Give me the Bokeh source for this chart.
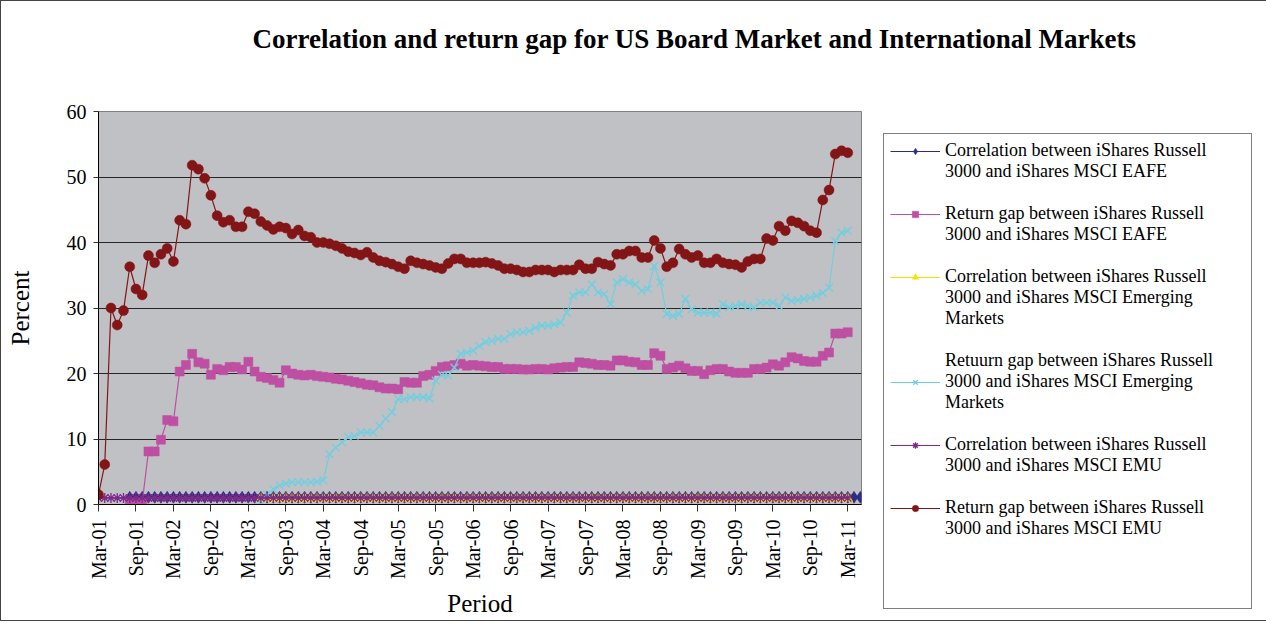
import math
import numpy as np
from bokeh.plotting import figure
from bokeh.models import Range1d, FixedTicker, Legend, LegendItem, Title
from bokeh.embed import file_html
from bokeh.resources import INLINE

# ---------------- data ----------------
tick_labels = ["Mar-01", "Sep-01", "Mar-02", "Sep-02", "Mar-03", "Sep-03", "Mar-04",
               "Sep-04", "Mar-05", "Sep-05", "Mar-06", "Sep-06", "Mar-07", "Sep-07",
               "Mar-08", "Sep-08", "Mar-09", "Sep-09", "Mar-10", "Sep-10", "Mar-11"]
tick_step = 6  # months between labelled ticks

# month index (0 = Mar-01) of the first value of each series
eafe_corr_start = 5
eafe_corr = [
    1.1, 1.1, 1.1, 1.1, 1.1, 1.1, 1.1, 1.1, 1.1, 1.1,
    1.1, 1.1, 1.1, 1.1, 1.1, 1.1, 1.1, 1.1, 1.1, 1.1,
    1.1, 1.1, 1.1, 1.1, 1.1, 1.1, 1.1, 1.1, 1.1, 1.1,
    1.1, 1.1, 1.1, 1.1, 1.1, 1.1, 1.1, 1.1, 1.1, 1.1,
    1.1, 1.1, 1.1, 1.1, 1.1, 1.1, 1.1, 1.1, 1.1, 1.1,
    1.1, 1.1, 1.1, 1.1, 1.1, 1.1, 1.1, 1.1, 1.1, 1.1,
    1.1, 1.1, 1.1, 1.1, 1.1, 1.1, 1.1, 1.1, 1.1, 1.1,
    1.1, 1.1, 1.1, 1.1, 1.1, 1.1, 1.1, 1.1, 1.1, 1.1,
    1.1, 1.1, 1.1, 1.1, 1.1, 1.1, 1.1, 1.1, 1.1, 1.1,
    1.1, 1.1, 1.1, 1.1, 1.1, 1.1, 1.1, 1.1, 1.1, 1.1,
    1.1, 1.1, 1.1, 1.1, 1.1, 1.1, 1.1, 1.1, 1.1, 1.1,
    1.1, 1.1, 1.1, 1.1, 1.1, 1.1, 1.1, 1.1]

eafe_ret_start = 5
eafe_ret = [
    0.3, 0.3, 0.3,
    8.1, 8.1, 9.9, 12.9, 12.7, 20.3, 21.3, 23.0, 21.7, 21.5,
    19.8, 20.7, 20.5, 21.0, 21.0, 20.6, 21.8, 20.3, 19.5, 19.3,
    19.0, 18.6, 20.5, 20.0, 19.8, 19.7, 19.8, 19.6, 19.5, 19.4,
    19.2, 19.1, 18.9, 18.7, 18.5, 18.3, 18.2, 17.9, 17.7, 17.7,
    17.6, 18.7, 18.6, 18.6, 19.6, 19.8, 20.4, 21.0, 21.1, 21.3,
    21.5, 21.2, 21.3, 21.2, 21.1, 21.0, 21.0, 20.7, 20.7, 20.7,
    20.6, 20.6, 20.7, 20.7, 20.6, 20.8, 20.9, 21.0, 21.0, 21.7,
    21.6, 21.5, 21.3, 21.3, 21.2, 22.0, 22.0, 21.8, 21.7, 21.3,
    21.3, 23.1, 22.7, 20.7, 20.9, 21.2, 20.8, 20.4, 20.4, 19.9,
    20.5, 20.7, 20.7, 20.3, 20.1, 20.1, 20.1, 20.7, 20.7, 20.9,
    21.4, 21.2, 21.7, 22.5, 22.3, 21.9, 21.8, 21.8, 22.7, 23.2,
    26.1, 26.1, 26.3]

em_corr_start = 26
em_corr = [
    0.9, 0.9, 0.9, 0.9, 0.9, 0.9, 0.9, 0.9, 0.9, 0.9,
    0.9, 0.9, 0.9, 0.9, 0.9, 0.9, 0.9, 0.9, 0.9, 0.9,
    0.9, 0.9, 0.9, 0.9, 0.9, 0.9, 0.9, 0.9, 0.9, 0.9,
    0.9, 0.9, 0.9, 0.9, 0.9, 0.9, 0.9, 0.9, 0.9, 0.9,
    0.9, 0.9, 0.9, 0.9, 0.9, 0.9, 0.9, 0.9, 0.9, 0.9,
    0.9, 0.9, 0.9, 0.9, 0.9, 0.9, 0.9, 0.9, 0.9, 0.9,
    0.9, 0.9, 0.9, 0.9, 0.9, 0.9, 0.9, 0.9, 0.9, 0.9,
    0.9, 0.9, 0.9, 0.9, 0.9, 0.9, 0.9, 0.9, 0.9, 0.9,
    0.9, 0.9, 0.9, 0.9, 0.9, 0.9, 0.9, 0.9, 0.9, 0.9,
    0.9, 0.9, 0.9, 0.9, 0.9]

em_ret_start = 26
em_ret = [
    0.5, 1.5, 2.3, 2.9, 3.2, 3.4, 3.4, 3.4, 3.4, 3.5,
    3.7, 7.7, 8.7, 9.5, 10.3, 10.5, 11.0, 11.0, 11.0, 12.0,
    13.1, 14.1, 16.1, 16.1, 16.4, 16.4, 16.4, 16.2, 18.9, 19.8,
    19.7, 20.9, 23.0, 23.2, 23.5, 24.2, 24.8, 25.0, 25.3, 25.3,
    26.0, 26.3, 26.3, 26.5, 27.0, 27.3, 27.3, 27.5, 27.8, 29.3,
    31.9, 32.4, 32.4, 33.6, 32.4, 32.1, 30.6, 33.9, 34.4, 33.9,
    33.6, 32.6, 32.9, 36.4, 33.9, 29.1, 28.8, 29.1, 31.4, 29.8,
    29.3, 29.3, 29.3, 29.1, 30.6, 30.1, 30.3, 30.6, 30.3, 30.1,
    30.8, 30.8, 30.8, 30.3, 31.6, 31.1, 31.2, 31.4, 31.6, 31.9,
    32.3, 33.1, 40.2, 41.5, 41.8]

emu_corr_start = 0
emu_corr = [
    1.0, 1.0, 1.0, 1.0, 1.0, 1.0, 1.0, 1.0, 1.0, 1.0,
    1.0, 1.0, 1.0, 1.0, 1.0, 1.0, 1.0, 1.0, 1.0, 1.0,
    1.0, 1.0, 1.0, 1.0, 1.0, 1.0, 1.0, 1.0, 1.0, 1.0,
    1.0, 1.0, 1.0, 1.0, 1.0, 1.0, 1.0, 1.0, 1.0, 1.0,
    1.0, 1.0, 1.0, 1.0, 1.0, 1.0, 1.0, 1.0, 1.0, 1.0,
    1.0, 1.0, 1.0, 1.0, 1.0, 1.0, 1.0, 1.0, 1.0, 1.0,
    1.0, 1.0, 1.0, 1.0, 1.0, 1.0, 1.0, 1.0, 1.0, 1.0,
    1.0, 1.0, 1.0, 1.0, 1.0, 1.0, 1.0, 1.0, 1.0, 1.0,
    1.0, 1.0, 1.0, 1.0, 1.0, 1.0, 1.0, 1.0, 1.0, 1.0,
    1.0, 1.0, 1.0, 1.0, 1.0, 1.0, 1.0, 1.0, 1.0, 1.0,
    1.0, 1.0, 1.0, 1.0, 1.0, 1.0, 1.0, 1.0, 1.0, 1.0,
    1.0, 1.0, 1.0, 1.0, 1.0, 1.0, 1.0, 1.0, 1.0, 1.0,
    1.0]

emu_ret_start = 0
emu_ret = [
    1.5, 6.1, 30.0, 27.4, 29.6, 36.3, 32.9, 32.0, 38.0, 36.9,
    38.2, 39.1, 37.1, 43.4, 42.8, 51.8, 51.2, 49.8, 47.2, 44.1,
    43.1, 43.4, 42.4, 42.4, 44.7, 44.4, 43.2, 42.6, 42.0, 42.4,
    42.2, 41.3, 41.9, 41.0, 40.8, 40.0, 40.0, 39.8, 39.5, 39.1,
    38.6, 38.4, 38.1, 38.5, 37.7, 37.2, 37.0, 36.7, 36.3, 36.0,
    37.2, 36.9, 36.7, 36.5, 36.2, 36.0, 36.8, 37.5, 37.5, 36.9,
    36.9, 36.9, 37.0, 36.8, 36.5, 36.0, 36.0, 35.8, 35.5, 35.5,
    35.8, 35.8, 35.8, 35.5, 35.8, 35.8, 35.8, 36.6, 36.0, 36.0,
    37.0, 36.7, 36.5, 38.2, 38.2, 38.7, 38.7, 37.7, 37.7, 40.3,
    39.1, 36.3, 36.9, 39.0, 38.2, 37.7, 38.0, 36.9, 36.9, 37.5,
    36.9, 36.7, 36.6, 36.2, 37.1, 37.5, 37.5, 40.6, 40.3, 42.5,
    41.8, 43.3, 43.0, 42.5, 41.8, 41.5, 46.5, 48.0, 53.5, 54.0,
    53.7]

legend_lines = [
    ["Correlation between iShares Russell", "3000 and iShares MSCI EAFE"],
    ["Return gap between iShares Russell", "3000 and iShares MSCI EAFE"],
    ["Correlation between iShares Russell", "3000 and iShares MSCI Emerging", "Markets"],
    ["Retuurn gap between iShares Russell", "3000 and iShares MSCI Emerging", "Markets"],
    ["Correlation between iShares Russell", "3000 and iShares MSCI EMU"],
    ["Return gap between iShares Russell", "3000 and iShares MSCI EMU"],
]
legend_glyph_line = [0, 0, 0, 1, 0, 0]   # which text line carries the symbol
chart_title = "Correlation and return gap for US Board Market and International Markets"

# ---------------- figure ----------------
SERIF = "Liberation Serif"

p = figure(width=1250, height=619,
           x_range=Range1d(0, 122.2), y_range=Range1d(0, 60),
           output_backend="svg", toolbar_location=None,
           min_border_left=97, min_border_right=0,
           min_border_top=110, min_border_bottom=116)
p.frame_width = 763
p.frame_height = 393
p.title = None
p.styles = {"border": "1px solid #444444"}

p.background_fill_color = "#C0C1C5"
p.border_fill_color = "white"
p.outline_line_color = "#808080"
p.outline_line_width = 1

# spacer (closest to the frame) then the real title above it
spacer = Title(text="\u00a0", text_font_size="20px", standoff=34)
p.add_layout(spacer, "above")
main_title = Title(text=chart_title, text_font=SERIF, text_font_style="bold",
                   text_font_size="27px", text_color="black",
                   align="left", offset=154, standoff=0)
p.add_layout(main_title, "above")

# grid
p.xgrid.grid_line_color = None
p.ygrid.grid_line_color = "#262626"
p.ygrid.grid_line_width = 1

# y axis
p.yaxis.ticker = FixedTicker(ticks=[0, 10, 20, 30, 40, 50, 60])
p.yaxis.minor_tick_line_color = None
p.yaxis.major_tick_out = 5
p.yaxis.major_tick_in = 0
p.yaxis.major_label_standoff = 7
p.yaxis.axis_label = "Percent"
p.yaxis.axis_label_standoff = 30

# x axis
tick_pos = [k * tick_step for k in range(len(tick_labels))]
p.xaxis.ticker = FixedTicker(ticks=tick_pos)
p.xaxis.major_label_overrides = {t: lab for t, lab in zip(tick_pos, tick_labels)}
p.xaxis.major_label_orientation = math.pi / 2
p.xaxis.minor_tick_line_color = None
p.xaxis.major_tick_out = 7
p.xaxis.major_tick_in = 0
p.xaxis.major_label_standoff = 8
p.xaxis.axis_label = "Period"
p.xaxis.axis_label_standoff = 8

for ax in (p.xaxis, p.yaxis):
    ax.axis_line_color = "black"
    ax.major_tick_line_color = "#333333"
    ax.major_label_text_font = SERIF
    ax.major_label_text_font_size = "20px"
    ax.major_label_text_color = "black"
    ax.axis_label_text_font = SERIF
    ax.axis_label_text_font_size = "25px"
    ax.axis_label_text_font_style = "normal"
    ax.axis_label_text_color = "black"

# ---------------- series ----------------
series = [
    (eafe_corr_start, eafe_corr, "#2B2D84", "diamond", 12),
    (eafe_ret_start, eafe_ret, "#BE4FA2", "square", 9),
    (em_corr_start, em_corr, "#F2E400", "triangle", 10),
    (em_ret_start, em_ret, "#6FCFE0", "x", 11),
    (emu_corr_start, emu_corr, "#7D2A88", "asterisk", 10),
    (emu_ret_start, emu_ret, "#831517", "circle", 10),
]

# invisible renderer used for legend rows that carry no symbol
blank = p.scatter([], [], marker="circle", size=1, fill_alpha=0, line_alpha=0)

items = []
for k, ((start, vals, color, marker, size), lines) in enumerate(zip(series, legend_lines)):
    x = np.arange(len(vals)) + start
    y = np.array(vals, dtype=float)
    lr = p.line(x, y, line_color=color, line_width=1.2)
    if marker in ("x", "asterisk"):
        sr = p.scatter(x, y, marker=marker, size=size, line_color=color,
                       line_width=1.3, fill_color=None)
    else:
        sr = p.scatter(x, y, marker=marker, size=size, fill_color=color,
                       line_color=color, line_width=0.5)
    for j, txt in enumerate(lines):
        rends = [lr, sr] if j == legend_glyph_line[k] else [blank]
        items.append(LegendItem(label=txt, renderers=rends))
    n_blank = 1 if k < len(series) - 1 else 3
    for _ in range(n_blank):
        items.append(LegendItem(label="\u00a0", renderers=[blank]))

legend = Legend(items=items, location="top_left")
legend.label_text_font = SERIF
legend.label_text_font_size = "18px"
legend.label_text_line_height = 1.1
legend.label_text_color = "black"
legend.label_width = 300
legend.label_height = 21
legend.label_standoff = 5
legend.glyph_width = 50
legend.glyph_height = 16
legend.padding = 6
legend.spacing = 0
legend.margin = 22
legend.border_line_color = "black"
legend.border_line_width = 1
legend.background_fill_color = "white"
legend.background_fill_alpha = 1
p.add_layout(legend, "right")

with open("out.html", "w") as f:
    f.write(file_html(p, INLINE))
